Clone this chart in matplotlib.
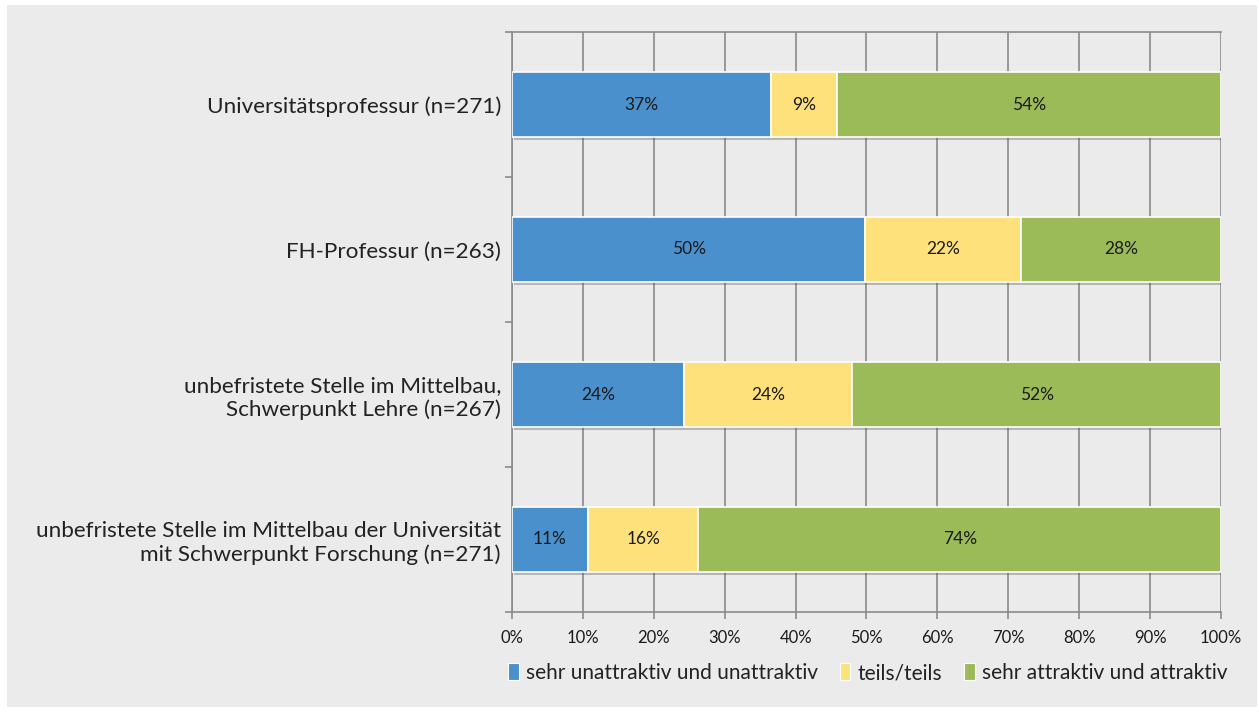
import numpy as np
import matplotlib
matplotlib.use('Agg')
import matplotlib.pyplot as plt
from matplotlib.patches import Rectangle, Patch
import matplotlib.patheffects as pe

# Data (shares in percent)
categories = ['Universitätsprofessur (n=271)',
              'FH-Professur (n=263)',
              'unbefristete Stelle im Mittelbau,\nSchwerpunkt Lehre (n=267)',
              'unbefristete Stelle im Mittelbau der Universität\nmit Schwerpunkt Forschung (n=271)']
unattraktiv = [36.6, 49.8, 24.3, 10.7]
teils = [9.2, 22.0, 23.7, 15.6]
attraktiv = [54.2, 28.2, 52.0, 73.7]
series_names = ['sehr unattraktiv und unattraktiv', 'teils/teils', 'sehr attraktiv und attraktiv']
colors = ['#4a90cd', '#ffe17c', '#9bbb59']

plt.rcParams['font.family'] = ['Lato', 'DejaVu Sans']

bg = '#ebebeb'
fig = plt.figure(figsize=(12.59, 7.14), dpi=100)
fig.patch.set_facecolor('white')
fig.patches.append(Rectangle((7/1259, 7/714), 1250/1259, 702/714,
                             transform=fig.transFigure, facecolor=bg,
                             edgecolor='none', zorder=-10))

ax = fig.add_axes([512/1259, 1 - 612/714, 709/1259, 580/714])
ax.set_facecolor(bg)

y = np.arange(len(categories))
left = np.zeros(len(categories))
shadow = [pe.SimplePatchShadow(offset=(1.5, -1.5), alpha=0.35, shadow_rgbFace='#555555'), pe.Normal()]
for vals, name, col in zip([unattraktiv, teils, attraktiv], series_names, colors):
    bars = ax.barh(y, vals, left=left, height=0.455, color=col, edgecolor='white',
                   linewidth=1.2, zorder=3)
    for b in bars:
        b.set_path_effects(shadow)
    for yi, l, v in zip(y, left, vals):
        ax.text(l + v / 2, yi, f'{v:.0f}%', ha='center', va='center',
                fontsize=12.5, color='#1a1a1a', zorder=4)
    left = left + np.array(vals)

ax.set_xlim(0, 100)
ax.set_ylim(len(categories) - 0.5, -0.5)

gc = '#8a8a8a'
ax.set_xticks(np.arange(0, 101, 10))
ax.set_xticklabels([f'{t}%' for t in range(0, 101, 10)], fontsize=12, color='#1a1a1a')
ax.xaxis.grid(True, color=gc, linewidth=1.2, zorder=0)
ax.set_axisbelow(True)

ax.set_yticks(y)
ax.set_yticklabels(categories, fontsize=16.2, color='#222222', linespacing=1.2)
ax.set_yticks(np.arange(-0.5, len(categories) + 0.5, 1), minor=True)
ax.tick_params(axis='y', which='major', length=0, pad=8)
ax.tick_params(axis='y', which='minor', length=5, color=gc, width=1.2)
ax.tick_params(axis='x', length=5, color=gc, width=1.2, pad=8)

for s in ['left', 'bottom', 'top']:
    ax.spines[s].set_color(gc)
    ax.spines[s].set_linewidth(1.2)
ax.spines['right'].set_visible(False)

handles = [Patch(facecolor=c, edgecolor='white', linewidth=0.8) for c in colors]
fig.legend(handles, series_names, loc='center', bbox_to_anchor=(868/1259, 1 - 673/714), ncol=3,
           frameon=False, fontsize=15, handlelength=0.5, handleheight=0.9,
           handletextpad=0.35, columnspacing=1.05, labelcolor='#222222')

fig.savefig('out.png', dpi=100, facecolor=fig.get_facecolor())
